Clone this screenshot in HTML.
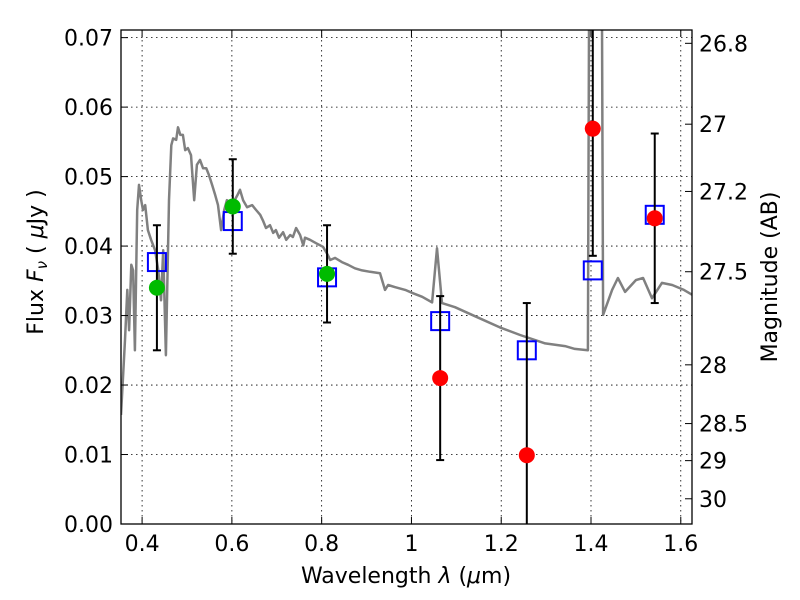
<!DOCTYPE html>
<html><head><meta charset="utf-8"><style>
body{margin:0;background:#fff}
svg{display:block;font-family:"DejaVu Sans","Liberation Sans",sans-serif}
</style></head><body>
<svg id="chart" width="800" height="600" viewBox="0 0 800 600" xmlns="http://www.w3.org/2000/svg">
<defs><clipPath id="clip"><rect x="121" y="30" width="571" height="494"/></clipPath></defs>
<rect x="0" y="0" width="800" height="600" fill="#fff"/>
<g id="grid"></g>
<g id="plot" clip-path="url(#clip)"></g>
<rect x="121" y="30" width="571" height="494" fill="none" stroke="#000" stroke-width="1.3"/>
<g id="axes"></g>
<text x="406" y="583" font-size="22" text-anchor="middle">Wavelength  <tspan font-style="italic">λ</tspan> (<tspan font-style="italic">μ</tspan>m)</text>
<text transform="translate(43,262) rotate(-90)" font-size="22" text-anchor="middle">Flux  <tspan font-style="italic">F</tspan><tspan font-style="italic" font-size="15" dy="4">ν</tspan><tspan dy="-4">  ( </tspan><tspan font-style="italic">μ</tspan>Jy )</text>
<text transform="translate(777,277) rotate(-90)" font-size="22" text-anchor="middle">Magnitude (AB)</text>
</svg>
<script>
const xTicks=[0.4,0.6,0.8,1.0,1.2,1.4,1.6];
const xTickLabels=["0.4","0.6","0.8","1","1.2","1.4","1.6"];
const yTicks=[0,0.01,0.02,0.03,0.04,0.05,0.06,0.07];
const yTickLabels=["0.00","0.01","0.02","0.03","0.04","0.05","0.06","0.07"];
const magTicks=[26.8,27,27.2,27.5,28,28.5,29,30];
const magTickLabels=["26.8","27","27.2","27.5","28","28.5","29","30"];
const specWl=[0.353,0.362,0.367,0.371,0.376,0.380,0.384,0.389,0.393,0.398,0.402,0.407,0.413,0.420,0.429,0.436,0.442,0.447,0.453,0.460,0.465,0.469,0.476,0.480,0.485,0.491,0.496,0.502,0.509,0.516,0.522,0.529,0.536,0.543,0.549,0.556,0.563,0.569,0.576,0.583,0.589,0.600,0.612,0.618,0.625,0.634,0.645,0.654,0.663,0.669,0.676,0.685,0.692,0.698,0.705,0.714,0.721,0.730,0.736,0.743,0.752,0.759,0.763,0.774,0.788,0.803,0.814,0.819,0.830,0.845,0.859,0.874,0.890,0.908,0.930,0.941,0.948,0.963,0.986,1.004,1.024,1.046,1.057,1.068,1.097,1.142,1.197,1.242,1.298,1.342,1.364,1.393,1.396,1.424,1.427,1.447,1.460,1.476,1.500,1.516,1.536,1.545,1.558,1.581,1.607,1.625];
const specFlux=[0.0157,0.0265,0.0337,0.0279,0.0373,0.0365,0.0250,0.0452,0.0488,0.0466,0.0452,0.0459,0.0423,0.0409,0.0394,0.0365,0.0322,0.0394,0.0243,0.0466,0.0545,0.0555,0.0553,0.0571,0.0560,0.0560,0.0538,0.0541,0.0531,0.0466,0.0517,0.0524,0.0512,0.0512,0.0502,0.0488,0.0473,0.0459,0.0423,0.0452,0.0466,0.0459,0.0473,0.0481,0.0466,0.0456,0.0459,0.0452,0.0445,0.0437,0.0426,0.0430,0.0419,0.0423,0.0412,0.0420,0.0409,0.0416,0.0413,0.0426,0.0416,0.0401,0.0412,0.0409,0.0404,0.0399,0.0387,0.0380,0.0383,0.0377,0.0373,0.0368,0.0365,0.0363,0.0361,0.0337,0.0344,0.0341,0.0337,0.0332,0.0327,0.0319,0.0397,0.0318,0.0312,0.0299,0.0283,0.0272,0.0260,0.0256,0.0252,0.0250,0.0800,0.0800,0.0301,0.0337,0.0354,0.0334,0.0351,0.0354,0.0325,0.0334,0.0347,0.0344,0.0337,0.0330];
const obsWl=[0.433,0.602,0.812,1.064,1.257,1.404,1.542];
const modelFlux=[0.0377,0.0436,0.0355,0.0292,0.0250,0.0365,0.0445];
const obsFlux=[0.0340,0.0457,0.0360,0.0210,0.0099,0.0569,0.0440];
const obsErr=[0.0090,0.0068,0.0070,0.0118,0.0219,0.0183,0.0122];
const obsColor=["#00bb00","#00bb00","#00bb00","#ff0000","#ff0000","#ff0000","#ff0000"];

const X0=121,X1=692,Y0=524,Y1=30,xmin=0.353,xmax=1.625,ymin=0,ymax=0.0711;
const sx=v=>X0+(v-xmin)/(xmax-xmin)*(X1-X0);
const sy=v=>Y0-(v-ymin)/(ymax-ymin)*(Y0-Y1);
const NS="http://www.w3.org/2000/svg";
function mk(tag,attrs,parent){const e=document.createElementNS(NS,tag);for(const k in attrs)e.setAttribute(k,attrs[k]);parent.appendChild(e);return e;}
const grid=document.getElementById('grid'),plot=document.getElementById('plot'),axes=document.getElementById('axes');

xTicks.forEach((t,i)=>{const x=sx(t);
 const g=mk('line',{x1:x,x2:x,y1:Y1,y2:Y0,stroke:'#000','stroke-width':0.8,'stroke-dasharray':'1.5,3.5'},grid);
 
 
 mk('line',{x1:x,x2:x,y1:Y0,y2:Y0-7,stroke:'#000'},axes);
 mk('line',{x1:x,x2:x,y1:Y1,y2:Y1+7,stroke:'#000'},axes);
 const l=mk('text',{x:x,y:Y0+27,'font-size':22,'text-anchor':'middle'},axes);l.textContent=xTickLabels[i];
 
 
});
yTicks.forEach((t,i)=>{const y=sy(t);
 const g=mk('line',{x1:X0,x2:X1,y1:y,y2:y,stroke:'#000','stroke-width':0.8,'stroke-dasharray':'1.5,3.5'},grid);
 
 
 mk('line',{x1:X0,x2:X0+7,y1:y,y2:y,stroke:'#000'},axes);
 const l=mk('text',{x:X0-8,y:y+8,'font-size':22,'text-anchor':'end'},axes);l.textContent=yTickLabels[i];
 
 
});
magTicks.forEach((m,i)=>{const f=Math.pow(10,(23.9-m)/2.5);const y=sy(f);
 mk('line',{x1:X1,x2:X1-7,y1:y,y2:y,stroke:'#000'},axes);
 const l=mk('text',{x:X1+7,y:y+8,'font-size':22},axes);l.textContent=magTickLabels[i];
 
 
});
const pts=specWl.map((w,i)=>sx(w).toFixed(1)+','+sy(specFlux[i]).toFixed(1)).join(' ');
const sp=mk('polyline',{points:pts,fill:'none',stroke:'#808080','stroke-width':2.5,'stroke-linejoin':'round'},plot);


obsWl.forEach((w,i)=>{const x=sx(w);
 const b=mk('rect',{x:x-9,y:sy(modelFlux[i])-9,width:18,height:18,fill:'none',stroke:'#0000ff','stroke-width':2},plot);
 
 
});
obsWl.forEach((w,i)=>{const x=sx(w),yt=sy(obsFlux[i]+obsErr[i]),yb=sy(obsFlux[i]-obsErr[i]);
 const e=mk('g',{stroke:'#000','stroke-width':2},plot);
 
 
 mk('line',{x1:x,x2:x,y1:yt,y2:yb},e);
 mk('line',{x1:x-4,x2:x+4,y1:yt,y2:yt},e);
 mk('line',{x1:x-4,x2:x+4,y1:yb,y2:yb},e);
 const c=mk('circle',{cx:x,cy:sy(obsFlux[i]),r:8,fill:obsColor[i]},plot);
 
 
});
</script>
</body></html>
